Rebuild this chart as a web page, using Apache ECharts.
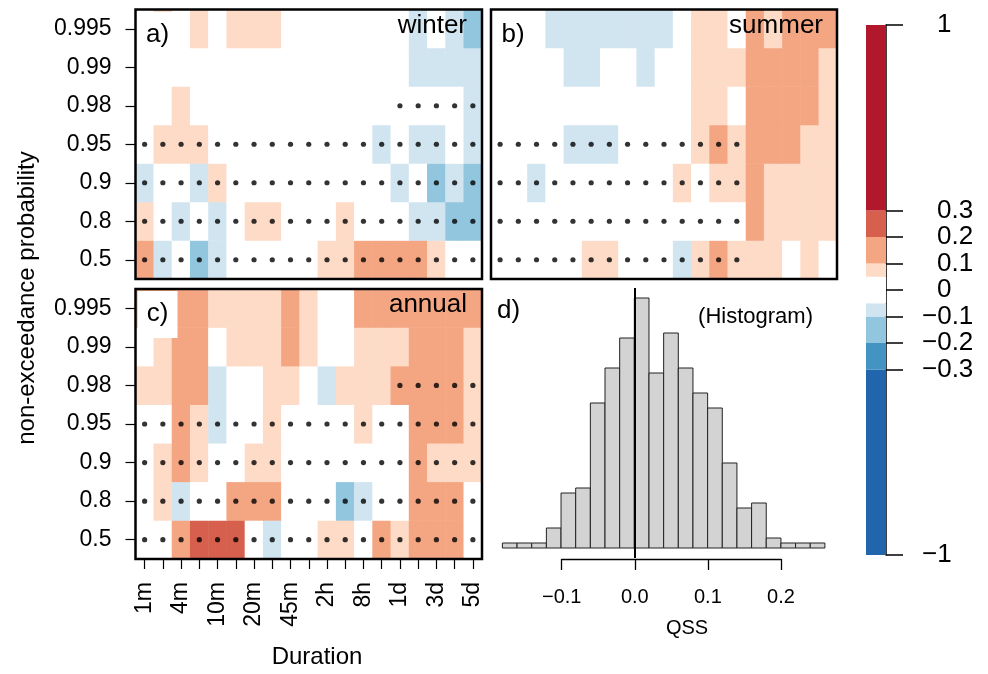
<!DOCTYPE html>
<html>
<head>
<meta charset="utf-8">
<script src="https://cdn.jsdelivr.net/npm/echarts@6/dist/echarts.min.js"></script>
<style>
  html, body { margin: 0; padding: 0; background: #fff; }
  #main { width: 988px; height: 674px; }
</style>
</head>
<body>
<div id="main"></div>
<script>
// categories
var durations = ["1m", "2m", "4m", "5m", "10m", "15m", "20m", "30m", "45m", "1h",
  "2h", "4h", "8h", "12h", "1d", "2d", "3d", "4d", "5d"];
var probs = ["0.5", "0.8", "0.9", "0.95", "0.98", "0.99", "0.995"];

// QSS per probability (rows, 0.5 -> 0.995), per duration (columns)
var winter = [
  [0.15, -0.07, 0, -0.15, -0.07, 0, 0, 0, 0, 0, 0.07, 0.07, 0.15, 0.15, 0.15, 0.15, 0.07, 0, 0],
  [0.07, 0, -0.07, 0, -0.07, 0, 0.07, 0.07, 0, 0, 0, 0.07, 0, 0, 0, -0.07, -0.07, -0.15, -0.15],
  [-0.07, 0, 0, -0.07, 0.07, 0, 0, 0, 0, 0, 0, 0, 0, 0, -0.07, 0, -0.15, -0.07, -0.15],
  [0, 0.07, 0.07, 0.07, 0, 0, 0, 0, 0, 0, 0, 0, 0, -0.07, 0, -0.07, -0.07, 0, -0.07],
  [0, 0, 0.07, 0, 0, 0, 0, 0, 0, 0, 0, 0, 0, 0, 0, 0, 0, 0, -0.07],
  [0, 0, 0, 0, 0, 0, 0, 0, 0, 0, 0, 0, 0, 0, 0, -0.07, -0.07, -0.07, -0.07],
  [0, 0.07, 0, 0.07, 0, 0.07, 0.07, 0.07, 0, 0, 0, 0, 0, 0, 0, -0.07, 0, -0.07, -0.15]
];
var summer = [
  [0, 0, 0, 0, 0, 0.07, 0.07, 0, 0, 0, -0.07, 0.07, 0.15, 0.07, 0.07, 0.07, 0, 0.07, 0],
  [0, 0, 0, 0, 0, 0, 0, 0, 0, 0, 0, 0, 0, 0, 0.15, 0.07, 0.07, 0.07, 0.07],
  [0, 0, -0.07, 0, 0, 0, 0, 0, 0, 0, 0.07, 0, 0.07, 0.07, 0.15, 0.07, 0.07, 0.07, 0.07],
  [0, 0, 0, 0, -0.07, -0.07, -0.07, 0, 0, 0, 0, 0.07, 0.15, 0.07, 0.15, 0.15, 0.15, 0.07, 0.07],
  [0, 0, 0, 0, 0, 0, 0, 0, 0, 0, 0, 0.07, 0.07, 0, 0.15, 0.15, 0.15, 0.15, 0.07],
  [0, 0, 0, 0, -0.07, -0.07, 0, 0, -0.07, 0, 0, 0.07, 0.07, 0.07, 0.15, 0.15, 0.15, 0.15, 0.07],
  [0, 0, 0, -0.07, -0.07, -0.07, -0.07, -0.07, -0.07, -0.07, 0, 0.07, 0.07, 0, 0.15, 0.07, 0.15, 0.15, 0.15]
];
var annual = [
  [0, 0, 0.15, 0.25, 0.25, 0.25, 0, -0.07, 0, 0, 0.07, 0.07, 0, 0.15, 0.07, 0.15, 0.15, 0.15, 0],
  [0, 0.07, -0.07, 0, 0, 0.15, 0.15, 0.15, 0, 0, 0, -0.15, -0.07, 0, 0, 0.15, 0.15, 0.15, 0],
  [0, 0.07, 0.15, 0.07, 0, 0, 0.07, 0.07, 0, 0, 0, 0, 0, 0, 0, 0.15, 0.07, 0.07, 0.07],
  [0, 0, 0.15, 0.07, -0.07, 0, 0, 0.07, 0, 0, 0, 0, 0.07, 0, 0, 0.15, 0.15, 0.15, 0.07],
  [0.07, 0.07, 0.15, 0.15, -0.07, 0, 0, 0.07, 0.07, 0, -0.07, 0.07, 0.07, 0.07, 0.15, 0.15, 0.15, 0.15, 0.07],
  [0, 0.07, 0.15, 0.15, 0, 0.07, 0.07, 0.07, 0.15, 0.07, 0, 0, 0.07, 0.07, 0.07, 0.15, 0.15, 0.15, 0.07],
  [0.15, 0.15, 0.15, 0.15, 0.07, 0.07, 0.07, 0.07, 0.15, 0.07, 0, 0, 0.15, 0.15, 0.15, 0.15, 0.15, 0.15, 0.15]
];

// significant cells (1 = dot)
var winterSig = [
  [1, 1, 1, 1, 1, 1, 1, 1, 1, 1, 1, 1, 1, 1, 1, 1, 1, 1, 1],
  [1, 1, 1, 1, 1, 1, 1, 1, 1, 1, 1, 1, 1, 1, 1, 1, 1, 1, 1],
  [1, 1, 1, 1, 1, 1, 1, 1, 1, 1, 1, 1, 1, 1, 1, 1, 1, 1, 1],
  [1, 1, 1, 1, 1, 1, 1, 1, 1, 1, 1, 1, 1, 1, 1, 1, 1, 1, 1],
  [0, 0, 0, 0, 0, 0, 0, 0, 0, 0, 0, 0, 0, 0, 1, 1, 1, 1, 1],
  [0, 0, 0, 0, 0, 0, 0, 0, 0, 0, 0, 0, 0, 0, 0, 0, 0, 0, 0],
  [0, 0, 0, 0, 0, 0, 0, 0, 0, 0, 0, 0, 0, 0, 0, 0, 0, 0, 0]
];
var summerSig = [
  [1, 1, 1, 1, 1, 1, 1, 1, 1, 1, 1, 1, 1, 1, 0, 0, 0, 0, 0],
  [1, 1, 1, 1, 1, 1, 1, 1, 1, 1, 1, 1, 1, 1, 0, 0, 0, 0, 0],
  [1, 1, 1, 1, 1, 1, 1, 1, 1, 1, 1, 1, 1, 1, 0, 0, 0, 0, 0],
  [1, 1, 1, 1, 1, 1, 1, 1, 1, 1, 1, 1, 1, 1, 0, 0, 0, 0, 0],
  [0, 0, 0, 0, 0, 0, 0, 0, 0, 0, 0, 0, 0, 0, 0, 0, 0, 0, 0],
  [0, 0, 0, 0, 0, 0, 0, 0, 0, 0, 0, 0, 0, 0, 0, 0, 0, 0, 0],
  [0, 0, 0, 0, 0, 0, 0, 0, 0, 0, 0, 0, 0, 0, 0, 0, 0, 0, 0]
];
var annualSig = winterSig;

// histogram of all QSS values
var histBins = [-0.18, -0.16, -0.14, -0.12, -0.10, -0.08, -0.06, -0.04, -0.02, 0.00, 0.02,
  0.04, 0.06, 0.08, 0.10, 0.12, 0.14, 0.16, 0.18, 0.20, 0.22, 0.24];
var histCounts = [1, 1, 1, 4, 11, 12, 29, 36, 42, 50, 35, 43, 36, 31, 28, 17, 8, 9, 2, 1, 1, 1];
var binWidth = 0.02;

// colour scale
var colorBreaks = [-1, -0.3, -0.2, -0.1, -0.05, 0.05, 0.1, 0.2, 0.3, 1];
var colorTicks = [-1, -0.3, -0.2, -0.1, 0, 0.1, 0.2, 0.3, 1];
var palette = ["#2166AC", "#4393C3", "#92C5DE", "#D1E5F0", "#FFFFFF",
  "#FDDBC7", "#F4A582", "#D6604D", "#B2182B"];

var FONT = "Liberation Sans, Arial, sans-serif";

function cells(grid) {
  var out = [];
  grid.forEach(function (row, j) {
    row.forEach(function (v, i) { out.push([i, j, v]); });
  });
  return out;
}
function dots(sig) {
  var out = [];
  sig.forEach(function (row, j) {
    row.forEach(function (s, i) { if (s) out.push([i, j]); });
  });
  return out;
}

var pieces = [];
for (var k = 0; k < palette.length; k++) {
  pieces.push({ gte: colorBreaks[k], lt: colorBreaks[k + 1], color: palette[k] });
}
pieces[pieces.length - 1].lte = 1;

var colorbarData = [];
for (var k = 0; k < palette.length; k++) {
  colorbarData.push([colorBreaks[k], colorBreaks[k + 1], k]);
}

var histData = histBins.map(function (b, i) { return [b, b + binWidth, histCounts[i]]; });

var myChart = echarts.init(document.getElementById("main"));

var gridBox = { show: true, borderColor: "#000", borderWidth: 2.5, backgroundColor: "transparent", z: 10 };
var hiddenCat = function (gi, data) {
  return { type: "category", gridIndex: gi, data: data, axisLine: { show: false },
    axisTick: { show: false }, axisLabel: { show: false }, splitLine: { show: false } };
};
var probAxis = function (gi) {
  return { type: "category", gridIndex: gi, data: probs, axisLine: { show: false },
    axisTick: { show: true, alignWithLabel: true, length: 10, lineStyle: { color: "#000", width: 1.2 } },
    axisLabel: { fontSize: 23, fontFamily: FONT, color: "#000", margin: 24 },
    splitLine: { show: false } };
};
var hiddenVal = function (gi, min, max) {
  return { type: "value", gridIndex: gi, min: min, max: max, show: false, splitLine: { show: false } };
};

var heatSeries = function (name, gi, data) {
  return { name: name, type: "heatmap", xAxisIndex: gi, yAxisIndex: gi, data: cells(data),
    itemStyle: { borderWidth: 0 }, emphasis: { disabled: true }, silent: true };
};
var dotSeries = function (gi, sig) {
  return { type: "scatter", xAxisIndex: gi, yAxisIndex: gi, data: dots(sig), symbolSize: 5.2,
    itemStyle: { color: "#000" }, silent: true, z: 5 };
};

var option = {
  animation: false,
  textStyle: { fontFamily: FONT },
  grid: [
    Object.assign({ left: 135.5, top: 9.5, width: 346.5, height: 269.5 }, gridBox),
    Object.assign({ left: 491, top: 9.5, width: 346, height: 269.5 }, gridBox),
    Object.assign({ left: 135.5, top: 289, width: 346.5, height: 270 }, gridBox),
    { left: 489.5, top: 288, width: 348.3, height: 270, show: false },
    { left: 866, top: 25, width: 20, height: 530, show: false },
    { left: 561.7, top: 288, width: 219.3, height: 271, show: false }
  ],
  visualMap: {
    type: "piecewise", show: false, seriesIndex: [0, 1, 2], dimension: 2, pieces: pieces
  },
  xAxis: [
    hiddenCat(0, durations),
    hiddenCat(1, durations),
    { type: "category", gridIndex: 2, data: durations, axisLine: { show: false },
      axisTick: { show: true, alignWithLabel: true, interval: 0, length: 10, lineStyle: { color: "#000", width: 1.2 } },
      axisLabel: { interval: 1, rotate: 90, fontSize: 23, fontFamily: FONT, color: "#000", margin: 23 },
      splitLine: { show: false } },
    hiddenVal(3, -0.1976, 0.2776),
    hiddenVal(4, 0, 1),
    { type: "value", gridIndex: 5, min: -0.1, max: 0.2, interval: 0.1,
      axisLine: { show: true, onZero: false, lineStyle: { color: "#000", width: 1.3 } },
      axisTick: { show: true, length: 11, lineStyle: { color: "#000", width: 1.3 } },
      axisLabel: { fontSize: 20, fontFamily: FONT, color: "#000", margin: 28,
        formatter: function (v) { return v < 0 ? "\u2212" + (-v).toFixed(1) : v.toFixed(1); } },
      splitLine: { show: false } }
  ],
  yAxis: [
    probAxis(0),
    hiddenCat(1, probs),
    probAxis(2),
    hiddenVal(3, -2, 52),
    { type: "value", gridIndex: 4, min: -1, max: 1, position: "right",
      axisLine: { show: true, onZero: false, lineStyle: { color: "#000", width: 1.5 } },
      axisTick: { show: true, length: 17, customValues: colorTicks, lineStyle: { color: "#000", width: 1.5 } },
      axisLabel: { customValues: colorTicks, margin: 36, color: "#000",
        formatter: function (v) {
          return v < 0 ? "{n|\u2212" + Math.abs(v) + "}" : "{p|" + v + "}";
        },
        rich: {
          n: { fontSize: 26, fontFamily: FONT, color: "#000" },
          p: { fontSize: 26, fontFamily: FONT, color: "#000", padding: [0, 0, 0, 15] }
        } },
      splitLine: { show: false } },
    hiddenVal(5, 0, 1)
  ],
  series: [
    heatSeries("winter", 0, winter),
    heatSeries("summer", 1, summer),
    heatSeries("annual", 2, annual),
    dotSeries(0, winterSig),
    dotSeries(1, summerSig),
    dotSeries(2, annualSig),
    {
      type: "custom", xAxisIndex: 3, yAxisIndex: 3, data: histData, silent: true,
      renderItem: function (params, api) {
        var p0 = api.coord([api.value(0), api.value(2)]);
        var p1 = api.coord([api.value(1), 0]);
        return { type: "rect", shape: { x: p0[0], y: p0[1], width: p1[0] - p0[0], height: p1[1] - p0[1] },
          style: { fill: "#D3D3D3", stroke: "#222", lineWidth: 1 } };
      },
      markLine: { silent: true, symbol: "none", label: { show: false },
        lineStyle: { color: "#000", width: 2, type: "solid" }, data: [{ xAxis: 0 }] }
    },
    {
      type: "custom", xAxisIndex: 4, yAxisIndex: 4, data: colorbarData, silent: true, z: 1,
      renderItem: function (params, api) {
        var p0 = api.coord([0, api.value(1)]);
        var p1 = api.coord([1, api.value(0)]);
        return { type: "rect", shape: { x: p0[0], y: p0[1], width: p1[0] - p0[0], height: p1[1] - p0[1] },
          style: { fill: palette[api.value(2)], stroke: null } };
      }
    }
  ],
  graphic: [
    { type: "rect", z: 50, shape: { x: 137.5, y: 12, width: 40, height: 47 }, style: { fill: "#fff" } },
    { type: "text", z: 51, style: { text: "a)", x: 157.5, y: 35, font: "26px " + FONT, textAlign: "center", textVerticalAlign: "middle", fill: "#000" } },
    { type: "rect", z: 50, shape: { x: 493, y: 12, width: 40, height: 47 }, style: { fill: "#fff" } },
    { type: "text", z: 51, style: { text: "b)", x: 513, y: 35, font: "26px " + FONT, textAlign: "center", textVerticalAlign: "middle", fill: "#000" } },
    { type: "rect", z: 50, shape: { x: 137.5, y: 291, width: 40, height: 47 }, style: { fill: "#fff" } },
    { type: "text", z: 51, style: { text: "c)", x: 157.5, y: 314, font: "26px " + FONT, textAlign: "center", textVerticalAlign: "middle", fill: "#000" } },
    { type: "text", z: 51, style: { text: "winter", x: 467, y: 26, font: "26px " + FONT, textAlign: "right", textVerticalAlign: "middle", fill: "#000" } },
    { type: "text", z: 51, style: { text: "summer", x: 823, y: 26, font: "26px " + FONT, textAlign: "right", textVerticalAlign: "middle", fill: "#000" } },
    { type: "text", z: 51, style: { text: "annual", x: 467, y: 305, font: "26px " + FONT, textAlign: "right", textVerticalAlign: "middle", fill: "#000" } },
    { type: "text", z: 51, style: { text: "d)", x: 497, y: 311, font: "26px " + FONT, textAlign: "left", textVerticalAlign: "middle", fill: "#000" } },
    { type: "text", z: 51, style: { text: "(Histogram)", x: 813, y: 317, font: "22px " + FONT, textAlign: "right", textVerticalAlign: "middle", fill: "#000" } },
    { type: "text", z: 51, style: { text: "QSS", x: 687, y: 628, font: "20px " + FONT, textAlign: "center", textVerticalAlign: "middle", fill: "#000" } },
    { type: "text", z: 51, style: { text: "Duration", x: 317, y: 657, font: "24px " + FONT, textAlign: "center", textVerticalAlign: "middle", fill: "#000" } },
    { type: "text", z: 51, rotation: Math.PI / 2, x: 27, y: 298,
      style: { text: "non-exceedance probability", x: 0, y: 0, font: "24px " + FONT, textAlign: "center", textVerticalAlign: "middle", fill: "#000" } }
  ]
};

myChart.setOption(option);
window.addEventListener("resize", function () {
  myChart.resize();
});
</script>
</body>
</html>
